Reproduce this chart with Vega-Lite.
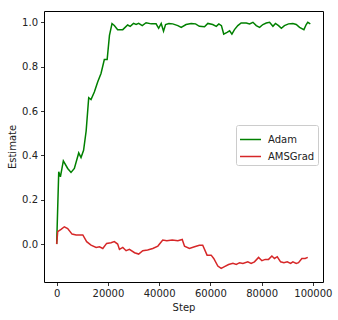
{
  "$schema": "https://vega.github.io/schema/vega-lite/v6.json",
  "autosize": {"type": "none"},
  "width": 279,
  "height": 271,
  "padding": {"left": 44, "top": 11, "right": 15, "bottom": 38},
  "background": "white",
  "config": {
    "view": {"stroke": "#000", "strokeWidth": 1},
    "font": "DejaVu Sans",
    "axis": {
      "domain": false, "grid": false, "tickColor": "#000", "tickSize": 3.5, "tickWidth": 0.8,
      "labelFont": "DejaVu Sans", "labelFontSize": 10, "labelColor": "#222",
      "titleFont": "DejaVu Sans", "titleFontSize": 10, "titleFontWeight": "normal", "titleColor": "#222",
      "labelPadding": 3
    }
  },
  "datasets": {
    "d": [
      {"step": 0, "value": 0.0, "series": "Adam"},
      {"step": 800, "value": 0.326, "series": "Adam"},
      {"step": 1450, "value": 0.303, "series": "Adam"},
      {"step": 2600, "value": 0.375, "series": "Adam"},
      {"step": 4300, "value": 0.341, "series": "Adam"},
      {"step": 5600, "value": 0.323, "series": "Adam"},
      {"step": 6900, "value": 0.341, "series": "Adam"},
      {"step": 8600, "value": 0.411, "series": "Adam"},
      {"step": 9500, "value": 0.39, "series": "Adam"},
      {"step": 10500, "value": 0.423, "series": "Adam"},
      {"step": 11500, "value": 0.51, "series": "Adam"},
      {"step": 12500, "value": 0.66, "series": "Adam"},
      {"step": 13400, "value": 0.652, "series": "Adam"},
      {"step": 14700, "value": 0.686, "series": "Adam"},
      {"step": 16000, "value": 0.731, "series": "Adam"},
      {"step": 17300, "value": 0.769, "series": "Adam"},
      {"step": 18600, "value": 0.832, "series": "Adam"},
      {"step": 19700, "value": 0.832, "series": "Adam"},
      {"step": 20600, "value": 0.941, "series": "Adam"},
      {"step": 21600, "value": 0.994, "series": "Adam"},
      {"step": 22500, "value": 0.986, "series": "Adam"},
      {"step": 23800, "value": 0.967, "series": "Adam"},
      {"step": 25800, "value": 0.967, "series": "Adam"},
      {"step": 27700, "value": 0.988, "series": "Adam"},
      {"step": 28700, "value": 0.982, "series": "Adam"},
      {"step": 30000, "value": 0.995, "series": "Adam"},
      {"step": 31000, "value": 0.99, "series": "Adam"},
      {"step": 32000, "value": 0.995, "series": "Adam"},
      {"step": 33400, "value": 0.985, "series": "Adam"},
      {"step": 34900, "value": 0.998, "series": "Adam"},
      {"step": 36900, "value": 0.993, "series": "Adam"},
      {"step": 38800, "value": 0.993, "series": "Adam"},
      {"step": 39800, "value": 0.973, "series": "Adam"},
      {"step": 40800, "value": 0.995, "series": "Adam"},
      {"step": 41700, "value": 0.96, "series": "Adam"},
      {"step": 42500, "value": 0.99, "series": "Adam"},
      {"step": 43800, "value": 0.995, "series": "Adam"},
      {"step": 45300, "value": 0.993, "series": "Adam"},
      {"step": 47300, "value": 0.985, "series": "Adam"},
      {"step": 48600, "value": 0.977, "series": "Adam"},
      {"step": 50500, "value": 0.99, "series": "Adam"},
      {"step": 52500, "value": 0.995, "series": "Adam"},
      {"step": 54200, "value": 0.993, "series": "Adam"},
      {"step": 55700, "value": 0.982, "series": "Adam"},
      {"step": 57700, "value": 0.98, "series": "Adam"},
      {"step": 59000, "value": 0.995, "series": "Adam"},
      {"step": 60900, "value": 0.99, "series": "Adam"},
      {"step": 62300, "value": 0.982, "series": "Adam"},
      {"step": 63300, "value": 0.993, "series": "Adam"},
      {"step": 64300, "value": 0.985, "series": "Adam"},
      {"step": 65200, "value": 0.947, "series": "Adam"},
      {"step": 66500, "value": 0.955, "series": "Adam"},
      {"step": 67500, "value": 0.962, "series": "Adam"},
      {"step": 68400, "value": 0.947, "series": "Adam"},
      {"step": 69400, "value": 0.967, "series": "Adam"},
      {"step": 70700, "value": 0.985, "series": "Adam"},
      {"step": 72000, "value": 0.997, "series": "Adam"},
      {"step": 74000, "value": 0.997, "series": "Adam"},
      {"step": 75300, "value": 0.993, "series": "Adam"},
      {"step": 76600, "value": 1.0, "series": "Adam"},
      {"step": 77900, "value": 0.985, "series": "Adam"},
      {"step": 79200, "value": 0.977, "series": "Adam"},
      {"step": 80500, "value": 0.99, "series": "Adam"},
      {"step": 81800, "value": 0.997, "series": "Adam"},
      {"step": 83100, "value": 1.0, "series": "Adam"},
      {"step": 84400, "value": 0.982, "series": "Adam"},
      {"step": 85400, "value": 0.995, "series": "Adam"},
      {"step": 86600, "value": 0.985, "series": "Adam"},
      {"step": 87700, "value": 0.973, "series": "Adam"},
      {"step": 88900, "value": 0.985, "series": "Adam"},
      {"step": 90500, "value": 0.993, "series": "Adam"},
      {"step": 92200, "value": 0.995, "series": "Adam"},
      {"step": 93500, "value": 0.99, "series": "Adam"},
      {"step": 94800, "value": 0.977, "series": "Adam"},
      {"step": 96500, "value": 0.967, "series": "Adam"},
      {"step": 97400, "value": 0.99, "series": "Adam"},
      {"step": 98000, "value": 1.0, "series": "Adam"},
      {"step": 99000, "value": 0.993, "series": "Adam"},

      {"step": 0, "value": 0.0, "series": "AMSGrad"},
      {"step": 400, "value": 0.056, "series": "AMSGrad"},
      {"step": 1700, "value": 0.066, "series": "AMSGrad"},
      {"step": 3000, "value": 0.078, "series": "AMSGrad"},
      {"step": 4300, "value": 0.07, "series": "AMSGrad"},
      {"step": 6000, "value": 0.045, "series": "AMSGrad"},
      {"step": 7600, "value": 0.041, "series": "AMSGrad"},
      {"step": 9100, "value": 0.041, "series": "AMSGrad"},
      {"step": 10200, "value": 0.041, "series": "AMSGrad"},
      {"step": 11700, "value": 0.011, "series": "AMSGrad"},
      {"step": 13400, "value": -0.005, "series": "AMSGrad"},
      {"step": 15400, "value": -0.015, "series": "AMSGrad"},
      {"step": 16700, "value": -0.012, "series": "AMSGrad"},
      {"step": 18000, "value": -0.02, "series": "AMSGrad"},
      {"step": 19500, "value": 0.003, "series": "AMSGrad"},
      {"step": 21200, "value": 0.006, "series": "AMSGrad"},
      {"step": 22500, "value": 0.011, "series": "AMSGrad"},
      {"step": 23800, "value": 0.0, "series": "AMSGrad"},
      {"step": 24500, "value": -0.024, "series": "AMSGrad"},
      {"step": 25800, "value": -0.015, "series": "AMSGrad"},
      {"step": 27100, "value": -0.03, "series": "AMSGrad"},
      {"step": 28400, "value": -0.024, "series": "AMSGrad"},
      {"step": 30400, "value": -0.039, "series": "AMSGrad"},
      {"step": 32000, "value": -0.045, "series": "AMSGrad"},
      {"step": 33600, "value": -0.03, "series": "AMSGrad"},
      {"step": 35500, "value": -0.027, "series": "AMSGrad"},
      {"step": 37500, "value": -0.02, "series": "AMSGrad"},
      {"step": 39500, "value": -0.009, "series": "AMSGrad"},
      {"step": 41400, "value": 0.018, "series": "AMSGrad"},
      {"step": 43000, "value": 0.015, "series": "AMSGrad"},
      {"step": 45100, "value": 0.018, "series": "AMSGrad"},
      {"step": 47300, "value": 0.015, "series": "AMSGrad"},
      {"step": 49000, "value": 0.021, "series": "AMSGrad"},
      {"step": 49900, "value": -0.01, "series": "AMSGrad"},
      {"step": 51800, "value": -0.02, "series": "AMSGrad"},
      {"step": 53800, "value": -0.012, "series": "AMSGrad"},
      {"step": 55700, "value": -0.005, "series": "AMSGrad"},
      {"step": 57000, "value": -0.005, "series": "AMSGrad"},
      {"step": 58700, "value": -0.05, "series": "AMSGrad"},
      {"step": 60300, "value": -0.05, "series": "AMSGrad"},
      {"step": 61300, "value": -0.065, "series": "AMSGrad"},
      {"step": 62900, "value": -0.099, "series": "AMSGrad"},
      {"step": 64200, "value": -0.11, "series": "AMSGrad"},
      {"step": 65500, "value": -0.102, "series": "AMSGrad"},
      {"step": 67100, "value": -0.092, "series": "AMSGrad"},
      {"step": 68800, "value": -0.087, "series": "AMSGrad"},
      {"step": 70100, "value": -0.092, "series": "AMSGrad"},
      {"step": 71400, "value": -0.084, "series": "AMSGrad"},
      {"step": 72700, "value": -0.087, "series": "AMSGrad"},
      {"step": 74600, "value": -0.08, "series": "AMSGrad"},
      {"step": 75900, "value": -0.087, "series": "AMSGrad"},
      {"step": 77200, "value": -0.08, "series": "AMSGrad"},
      {"step": 78800, "value": -0.06, "series": "AMSGrad"},
      {"step": 80100, "value": -0.075, "series": "AMSGrad"},
      {"step": 81400, "value": -0.069, "series": "AMSGrad"},
      {"step": 82700, "value": -0.069, "series": "AMSGrad"},
      {"step": 84000, "value": -0.054, "series": "AMSGrad"},
      {"step": 85000, "value": -0.065, "series": "AMSGrad"},
      {"step": 86100, "value": -0.057, "series": "AMSGrad"},
      {"step": 87400, "value": -0.08, "series": "AMSGrad"},
      {"step": 88700, "value": -0.084, "series": "AMSGrad"},
      {"step": 90000, "value": -0.08, "series": "AMSGrad"},
      {"step": 91300, "value": -0.087, "series": "AMSGrad"},
      {"step": 92200, "value": -0.08, "series": "AMSGrad"},
      {"step": 93500, "value": -0.087, "series": "AMSGrad"},
      {"step": 94400, "value": -0.084, "series": "AMSGrad"},
      {"step": 95700, "value": -0.065, "series": "AMSGrad"},
      {"step": 97000, "value": -0.065, "series": "AMSGrad"},
      {"step": 98000, "value": -0.06, "series": "AMSGrad"}
    ]
  },
  "data": {"name": "d"},
  "mark": {"type": "line", "strokeWidth": 1.5, "clip": true},
  "encoding": {
    "x": {
      "field": "step", "type": "quantitative",
      "scale": {"domain": [-4950, 103950], "nice": false, "zero": false},
      "axis": {"title": "Step", "values": [0, 20000, 40000, 60000, 80000, 100000], "format": "d", "titlePadding": 4}
    },
    "y": {
      "field": "value", "type": "quantitative",
      "scale": {"domain": [-0.171, 1.051], "nice": false, "zero": false},
      "axis": {"title": "Estimate", "values": [0, 0.2, 0.4, 0.6, 0.8, 1.0], "format": ".1f", "titlePadding": 4}
    },
    "color": {
      "field": "series", "type": "nominal",
      "scale": {"domain": ["Adam", "AMSGrad"], "range": ["#008000", "#d62728"]},
      "legend": {
        "title": null, "orient": "none", "legendX": 192, "legendY": 114,
        "symbolType": "stroke", "symbolSize": 440, "symbolStrokeWidth": 1.5,
        "labelFont": "DejaVu Sans", "labelFontSize": 10, "labelColor": "#222",
        "strokeColor": "#cccccc", "fillColor": "white", "cornerRadius": 2,
        "padding": 3, "rowPadding": -6, "labelOffset": 6
      }
    }
  }
}
